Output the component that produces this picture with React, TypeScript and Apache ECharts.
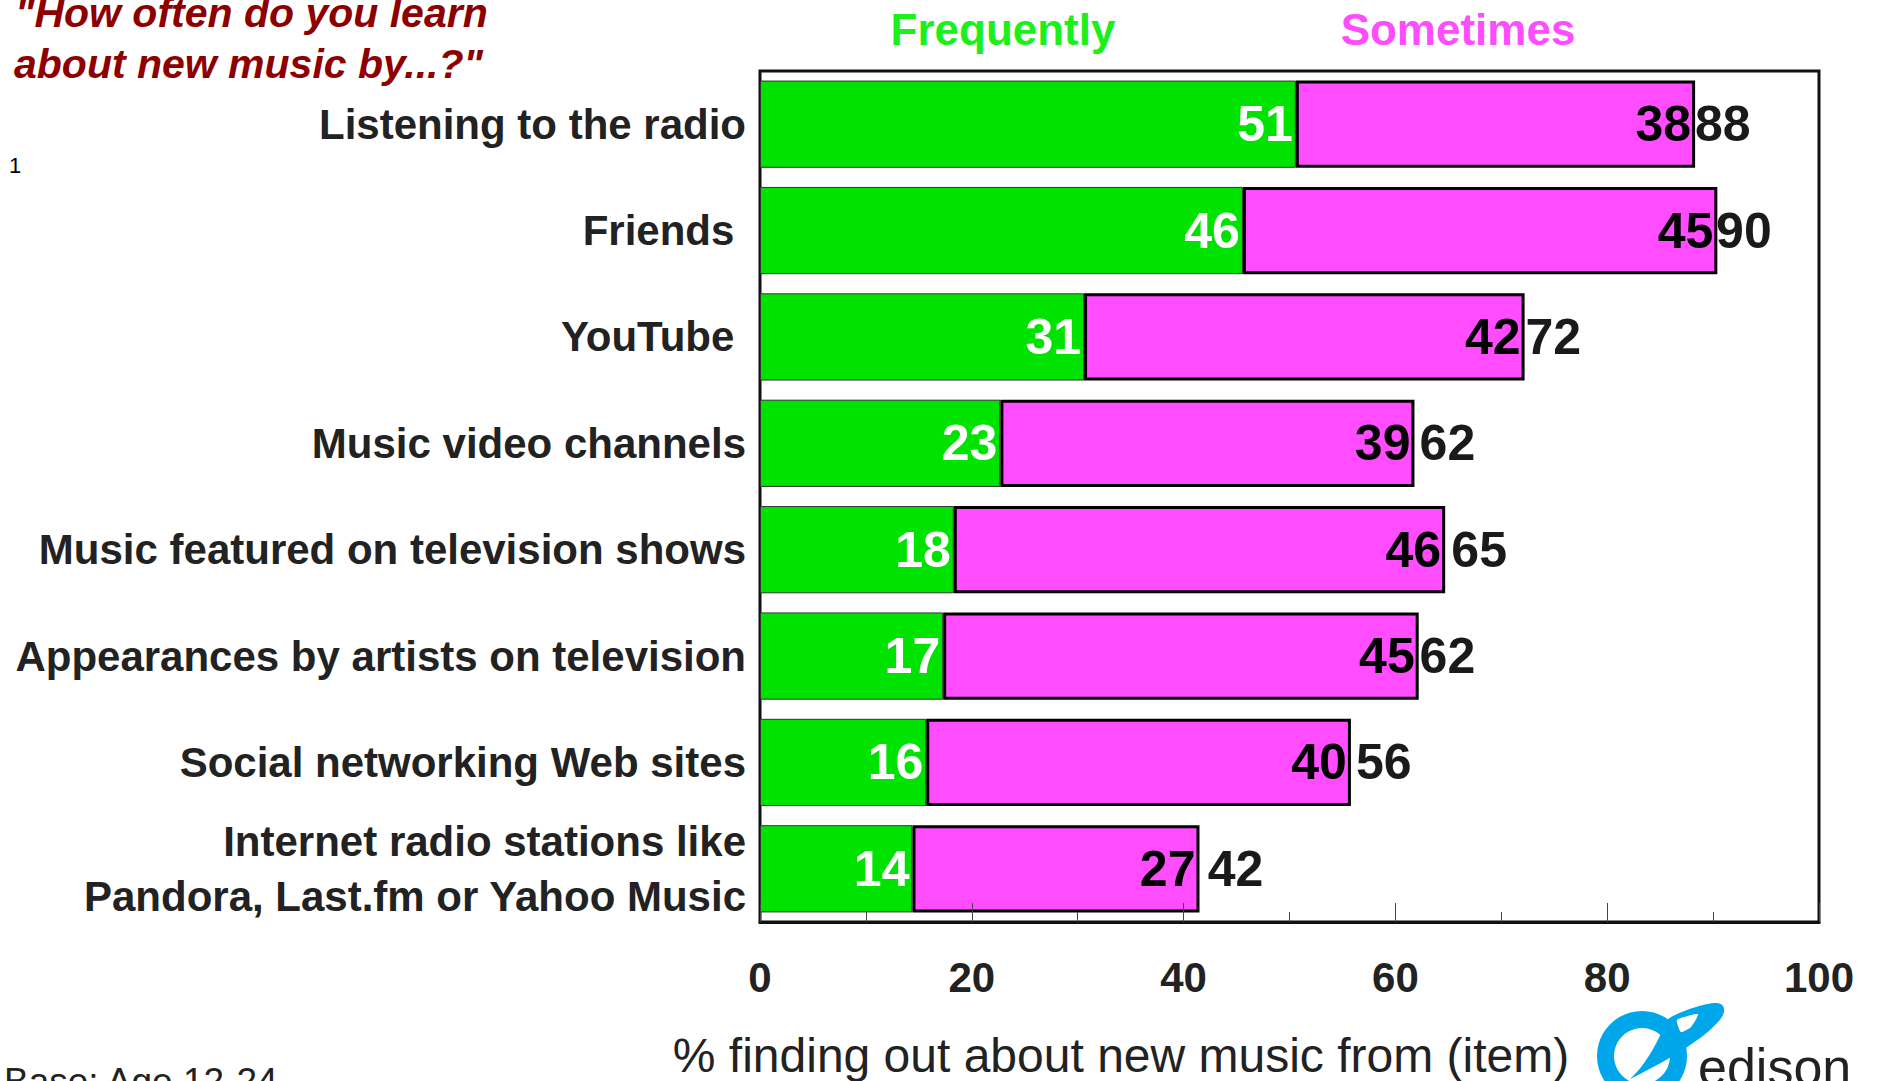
import { useEffect, useRef } from "react";
import * as echarts from "echarts";

const categories = [
  "Listening to the radio",
  "Friends ",
  "YouTube ",
  "Music video channels",
  "Music featured on television shows",
  "Appearances by artists on television",
  "Social networking Web sites",
  "Internet radio stations like\nPandora, Last.fm or Yahoo Music",
];
// bar lengths (labels show the rounded values)
const frequently = [50.6, 45.6, 30.6, 22.7, 18.3, 17.3, 15.7, 14.4];
const sometimes = [37.7, 44.8, 41.6, 39.1, 46.4, 44.9, 40.1, 27.1];
const totals = [88, 90, 72, 62, 65, 62, 56, 42];
const xMin = 0;
const xMax = 100;
const xInterval = 20;

const FONT = "'Liberation Sans', Arial, Helvetica, sans-serif";

// small per-label vertical nudges seen in the reference (label padding, px)
const labelPadding: Record<string, number[]> = {
  "Listening to the radio": [7, 0, 0, 0],
  "Music featured on television shows": [3, 0, 0, 0],
  "Appearances by artists on television": [0, 0, 7, 0],
  "Social networking Web sites": [0, 0, 16, 0],
};

const SWOOSH =
  "M 50 84 C 70 66 80 40 88 24 C 100 16 125 8 136 8 C 146 8 147 18 138 27 C 125 42 95 62 50 84 Z";
echarts.graphic.registerShape("edisonSwoosh", echarts.graphic.extendPath(SWOOSH, {}));

export default function App() {
  const ref = useRef<HTMLDivElement>(null);
  useEffect(() => {
    const chart = echarts.init(ref.current as HTMLDivElement, null, { renderer: "svg" });
    chart.setOption({
      animation: false,
      backgroundColor: "#ffffff",
      textStyle: { fontFamily: FONT },
      grid: {
        left: 760,
        top: 71,
        width: 1059,
        height: 851,
        show: true,
        borderColor: "#111",
        borderWidth: 3,
        containLabel: false,
      },
      xAxis: {
        type: "value",
        min: xMin,
        max: xMax,
        interval: xInterval,
        z: 5,
        axisLine: { show: true, lineStyle: { color: "#111", width: 3 } },
        axisTick: { show: true, inside: true, length: 19, lineStyle: { color: "#444", width: 1 } },
        minorTick: { show: true, splitNumber: 2, length: 10, lineStyle: { color: "#444", width: 1 } },
        splitLine: { show: false },
        axisLabel: {
          fontSize: 42,
          fontWeight: "bold",
          color: "#222",
          margin: 34,
          fontFamily: FONT,
        },
      },
      yAxis: {
        type: "category",
        inverse: true,
        data: categories.map((c) =>
          labelPadding[c] ? { value: c, textStyle: { padding: labelPadding[c] } } : c
        ),
        axisLine: { show: false },
        axisTick: { show: false },
        splitLine: { show: false },
        axisLabel: {
          fontSize: 42,
          fontWeight: "bold",
          color: "#222",
          margin: 14,
          lineHeight: 55,
          fontFamily: FONT,
        },
      },
      series: [
        {
          name: "Frequently",
          type: "bar",
          stack: "all",
          barCategoryGap: "18%",
          data: frequently,
          itemStyle: { color: "#00E300", borderColor: "#333", borderWidth: 1 },
          label: {
            show: true,
            position: "insideRight",
            distance: 3,
            formatter: (p: any) => String(Math.round(p.value)),
            color: "#ffffff",
            fontSize: 50,
            fontWeight: "bold",
            fontFamily: FONT,
          },
        },
        {
          name: "Sometimes",
          type: "bar",
          stack: "all",
          barCategoryGap: "18%",
          data: sometimes,
          itemStyle: { color: "#FF4CFF", borderColor: "#000", borderWidth: 3 },
          label: {
            show: true,
            position: "insideRight",
            distance: 4,
            formatter: (p: any) => String(Math.round(p.value)),
            color: "#000",
            fontSize: 50,
            fontWeight: "bold",
            fontFamily: FONT,
          },
        },
        {
          name: "Total",
          type: "scatter",
          symbolSize: 0,
          z: 6,
          itemStyle: { opacity: 1 },
          data: totals.map((t, i) => [t, i]),
          label: {
            show: true,
            position: "right",
            distance: 3,
            opacity: 1,
            formatter: (p: any) => String(p.value[0]),
            color: "#1a1a1a",
            fontSize: 50,
            fontWeight: "bold",
            fontFamily: FONT,
          },
        },
      ],
      graphic: [
        {
          type: "text",
          x: 15,
          y: 13,
          style: {
            text: '"How often do you learn',
            fill: "#8E0000",
            font: `italic bold 41px ${FONT}`,
            verticalAlign: "middle",
            align: "left",
          },
        },
        {
          type: "text",
          x: 14,
          y: 64,
          style: {
            text: 'about new music by...?"',
            fill: "#8E0000",
            font: `italic bold 41px ${FONT}`,
            verticalAlign: "middle",
            align: "left",
          },
        },
        {
          type: "text",
          x: 9,
          y: 165,
          style: { text: "1", fill: "#000", font: `22px ${FONT}`, verticalAlign: "middle", align: "left" },
        },
        {
          type: "text",
          x: 1003,
          y: 29,
          style: {
            text: "Frequently",
            fill: "#1BF01B",
            font: `bold 44px ${FONT}`,
            verticalAlign: "middle",
            align: "center",
          },
        },
        {
          type: "text",
          x: 1458,
          y: 29,
          style: {
            text: "Sometimes",
            fill: "#FF4CFF",
            font: `bold 44px ${FONT}`,
            verticalAlign: "middle",
            align: "center",
          },
        },
        {
          type: "text",
          x: 1121,
          y: 1055,
          style: {
            text: "% finding out about new music from (item)",
            fill: "#222",
            font: `48px ${FONT}`,
            verticalAlign: "middle",
            align: "center",
          },
        },
        {
          type: "text",
          x: 4,
          y: 1081,
          style: {
            text: "Base: Age 12-24",
            fill: "#222",
            font: `37px ${FONT}`,
            verticalAlign: "middle",
            align: "left",
          },
        },
        {
          type: "ring",
          shape: { cx: 1642, cy: 1056, r: 45, r0: 28 },
          style: { fill: "#00A6EA" },
        },
        {
          type: "edisonSwoosh",
          x: 1580,
          y: 995,
          scaleX: 1,
          scaleY: 1,
          style: { fill: "#00A6EA" },
        },
        {
          type: "polygon",
          shape: {
            points: [
              [1677, 1020],
              [1698, 1014],
              [1691, 1027],
              [1681, 1032],
            ],
            smooth: 0.2,
          },
          style: { fill: "#ffffff" },
        },
        {
          type: "text",
          x: 1698,
          y: 1067,
          style: {
            text: "edison",
            fill: "#222",
            font: `52px ${FONT}`,
            verticalAlign: "middle",
            align: "left",
          },
        },
      ],
    });
    return () => chart.dispose();
  }, []);
  return (
    <div
      ref={ref}
      style={{ position: "fixed", left: 0, top: 0, width: 1877, height: 1081, background: "#fff" }}
    />
  );
}
